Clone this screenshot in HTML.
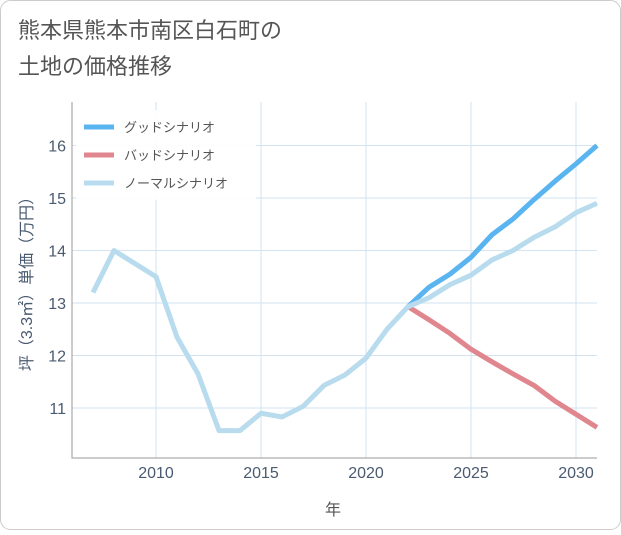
<!DOCTYPE html>
<html><head><meta charset="utf-8"><style>
body{margin:0;background:#fff;}
svg text{font-family:"Liberation Sans","Noto Sans CJK JP",sans-serif;}
</style></head><body>
<svg width="621" height="530" xmlns="http://www.w3.org/2000/svg">
<rect x="0.5" y="0.5" width="620" height="529" rx="10" fill="#fff" stroke="#ccc"/>
<text x="18" y="38" font-size="22" fill="#555">熊本県熊本市南区白石町の</text>
<text x="18" y="74" font-size="22" fill="#555">土地の価格推移</text>
<g id="grid"></g>
<g id="series"></g>
<g id="axes"></g>
<text x="333" y="515" font-size="16" fill="#555" text-anchor="middle">年</text>
<text transform="translate(32,280) rotate(-90)" font-size="16" fill="#4a5a70" text-anchor="middle">坪（3.3㎡）単価（万円）</text>
<g id="legend"></g>
</svg>
<script>
const years=[2007,2008,2009,2010,2011,2012,2013,2014,2015,2016,2017,2018,2019,2020,2021,2022,2023,2024,2025,2026,2027,2028,2029,2030,2031];
const normal=[13.2,14.0,13.75,13.5,12.35,11.65,10.57,10.57,10.9,10.83,11.03,11.43,11.63,11.95,12.5,12.93,13.1,13.35,13.53,13.82,14.0,14.25,14.45,14.72,14.9];
const futureYears=[2022,2023,2024,2025,2026,2027,2028,2029,2030,2031];
const good=[12.93,13.3,13.55,13.87,14.3,14.6,14.97,15.32,15.65,16.0];
const bad=[12.93,12.68,12.42,12.12,11.88,11.65,11.43,11.13,10.88,10.63];
const xTicks=[2010,2015,2020,2025,2030];
const yTicks=[11,12,13,14,15,16];
const NS='http://www.w3.org/2000/svg';
const X0=72,X1=597,Y0=102,Y1=458;
const x=v=>156+(v-2010)*21;
const y=v=>145.5+(16-v)*52.5;
function mk(tag,attrs,parent){const e=document.createElementNS(NS,tag);for(const k in attrs)e.setAttribute(k,attrs[k]);document.getElementById(parent).appendChild(e);return e;}
xTicks.forEach(t=>{const l=mk('line',{x1:x(t),x2:x(t),y1:Y0,y2:Y1,stroke:'#d3e3f0','stroke-width':1},'grid');

});
yTicks.forEach(t=>{const l=mk('line',{x1:X0,x2:X1,y1:y(t),y2:y(t),stroke:'#d3e3f0','stroke-width':1},'grid');

});
const ax=mk('path',{d:`M${X0},${Y0}V${Y1}H${X1}`,fill:'none',stroke:'#999','stroke-width':1},'axes');


xTicks.forEach(t=>{const e=mk('text',{x:x(t),y:478,'font-size':16,fill:'#4a5a70','text-anchor':'middle'},'axes');e.textContent=t;

});
yTicks.forEach(t=>{const e=mk('text',{x:66,y:y(t)+6,'font-size':16,fill:'#4a5a70','text-anchor':'end'},'axes');e.textContent=t;

});
function line(xs,vs,color,name){const p=mk('polyline',{points:xs.map((v,i)=>x(v)+','+y(vs[i])).join(' '),fill:'none',stroke:color,'stroke-width':5,'stroke-linejoin':'round'},'series');

}
line(futureYears,bad,'#e0868e','bad-scenario-line');
line(futureYears,good,'#5ab4f0','good-scenario-line');
line(years,normal,'#b8dcee','normal-scenario-line');
const lg=mk('rect',{x:76,y:110,width:180,height:90,fill:'#fff','fill-opacity':0.9},'legend');


[['グッドシナリオ','#5ab4f0'],['バッドシナリオ','#e0868e'],['ノーマルシナリオ','#b8dcee']].forEach((d,i)=>{const yy=127+i*28;
const l=mk('line',{x1:84,x2:114,y1:yy,y2:yy,stroke:d[1],'stroke-width':5},'legend');


const t=mk('text',{x:124,y:yy+5,'font-size':13,fill:'#555'},'legend');t.textContent=d[0];

});
</script>
</body></html>
